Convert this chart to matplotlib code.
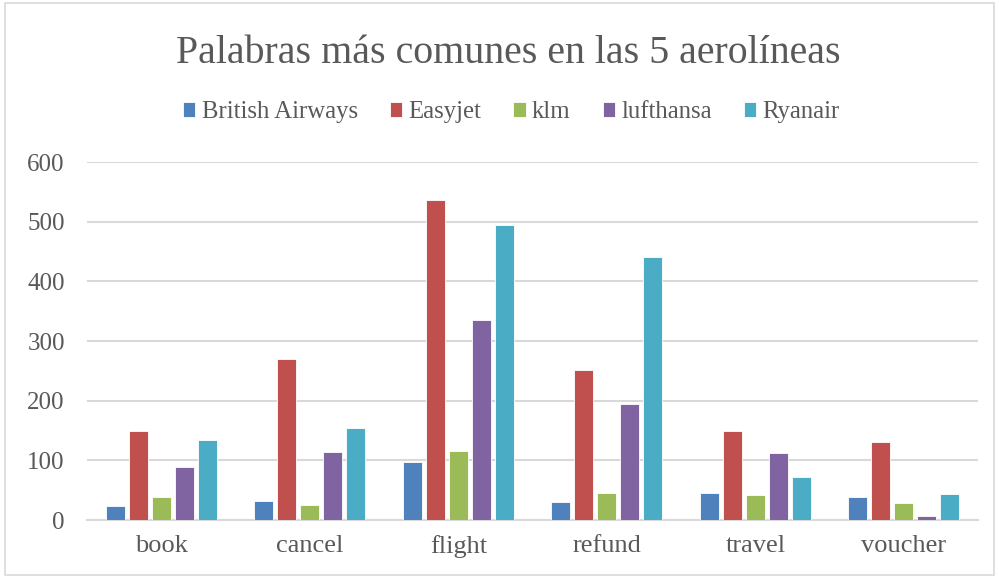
import numpy as np
import matplotlib.pyplot as plt
from matplotlib.patches import Rectangle

categories = ["book", "cancel", "flight", "refund", "travel", "voucher"]
airlines = ["British Airways", "Easyjet", "klm", "lufthansa", "Ryanair"]
british = [24, 32, 98, 30, 46, 38]
easyjet = [150, 270, 536, 252, 150, 130]
klm = [38, 25, 115, 46, 42, 28]
lufthansa = [89, 114, 336, 195, 113, 6]
ryanair = [134, 155, 494, 440, 72, 43]
series = [british, easyjet, klm, lufthansa, ryanair]
colors = ["#4F81BD", "#C0504D", "#9BBB59", "#8064A2", "#4BACC6"]

plt.rcParams['font.family'] = ['Liberation Serif', 'DejaVu Serif']
txt = "#595959"

fig = plt.figure(figsize=(9.99, 5.78), dpi=100)
fig.patches.append(Rectangle((0.005, 0.006), 0.99, 0.988, transform=fig.transFigure,
                             fill=False, edgecolor="#d9d9d9", linewidth=1.2))
ax = fig.add_axes([0.0871, 0.1003, 0.892, 0.6194])

x = np.arange(len(categories))
step = 0.155
for i, (vals, c, name) in enumerate(zip(series, colors, airlines)):
    ax.bar(x + (i - 2) * step, vals, width=0.128, color=c, label=name,
           edgecolor="white", linewidth=0.6, zorder=3)

ax.set_xlim(-0.5, len(categories) - 0.5)
ax.set_ylim(0, 600)
ax.set_yticks(range(0, 601, 100))
ax.grid(axis='y', color="#d9d9d9", linewidth=1.5, zorder=0)
ax.set_xticks(x)
ax.set_xticklabels(categories)
ax.tick_params(length=0, labelsize=18, colors=txt)
ax.tick_params(axis='x', pad=11, labelsize=19)
ax.tick_params(axis='y', pad=16)
for s in ["top", "right", "left"]:
    ax.spines[s].set_visible(False)
ax.spines["bottom"].set_color("#d9d9d9")
ax.spines["bottom"].set_linewidth(1.5)

fig.text(0.509, 0.907, "Palabras más comunes en las 5 aerolíneas", ha='center', va='center',
         fontsize=28.7, color=txt)
fig.legend(loc='center', bbox_to_anchor=(0.512, 0.806), ncol=5, frameon=False,
           fontsize=17.8, labelcolor=txt, handlelength=0.5, handleheight=0.55,
           handletextpad=0.25, columnspacing=1.3)

plt.savefig("out.png", dpi=100)
